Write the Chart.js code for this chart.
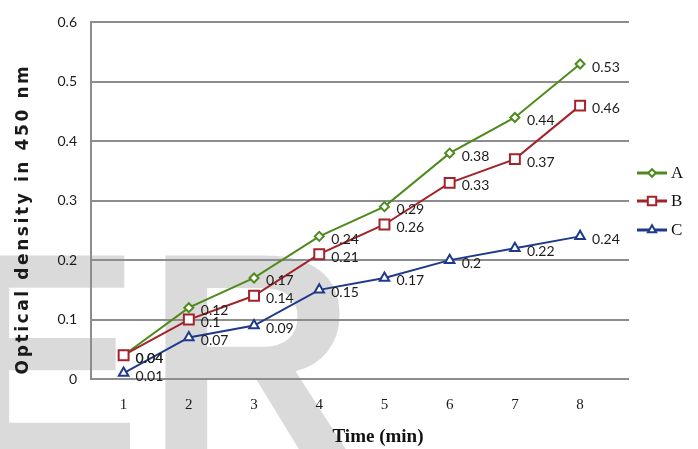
<!DOCTYPE html>
<html>
<head>
<meta charset="utf-8">
<script src="https://cdn.jsdelivr.net/npm/chart.js@4/dist/chart.umd.min.js"></script>
<style>
  html, body { margin: 0; padding: 0; background: #ffffff; }
  canvas { display: block; }
</style>
</head>
<body>
<canvas id="chart" width="698" height="449"></canvas>
<script>
// Time points (min) and optical density readings for the three samples
const timeMin = [1, 2, 3, 4, 5, 6, 7, 8];
const xTickLabels = ['1', '2', '3', '4', '5', '6', '7', '8'];
const yTickLabels = ['0', '0.1', '0.2', '0.3', '0.4', '0.5', '0.6'];
const seriesNames = ['A', 'B', 'C'];
const seriesA = [0.04, 0.12, 0.17, 0.24, 0.29, 0.38, 0.44, 0.53];
const seriesB = [0.04, 0.10, 0.14, 0.21, 0.26, 0.33, 0.37, 0.46];
const seriesC = [0.01, 0.07, 0.09, 0.15, 0.17, 0.20, 0.22, 0.24];

const colors = ['#4f8a1c', '#a3232b', '#1f3a8c'];
const styles = [
  { pointStyle: 'rectRot', radius: 4.5 },
  { pointStyle: 'rect', radius: 7 },
  { pointStyle: 'triangle', radius: 5.5 }
];
const seriesValues = [seriesA, seriesB, seriesC];

const GRID = '#8d8d8d';

function toPoints(values) {
  return timeMin.map((t, i) => ({ x: t, y: values[i] }));
}

const datasets = seriesValues.map((vals, i) => ({
  label: seriesNames[i],
  data: toPoints(vals),
  borderColor: colors[i],
  backgroundColor: '#ffffff',
  borderWidth: 2,
  pointStyle: styles[i].pointStyle,
  pointRadius: styles[i].radius,
  pointHoverRadius: styles[i].radius,
  pointBorderWidth: 2,
  pointBackgroundColor: '#ffffff',
  pointBorderColor: colors[i],
  tension: 0,
  order: 3 - i
}));

// Faint lettering behind the plot
const backdrop = {
  id: 'backdrop',
  beforeDraw(chart) {
    const ctx = chart.ctx;
    ctx.save();
    ctx.fillStyle = '#ffffff';
    ctx.fillRect(0, 0, chart.width, chart.height);
    ctx.fillStyle = '#dadada';
    ctx.font = 'bold 290px "Liberation Sans", Arial, sans-serif';
    ctx.textBaseline = 'alphabetic';
    ctx.textAlign = 'left';
    ctx.fillText('E', -52, 455);
    ctx.fillText('R', 146, 455);
    ctx.restore();
  }
};

// Value labels to the right of each marker
const valueLabels = {
  id: 'valueLabels',
  afterDatasetsDraw(chart) {
    const ctx = chart.ctx;
    ctx.save();
    ctx.font = '14px Lato, "Open Sans", sans-serif';
    ctx.fillStyle = '#1c1c1c';
    ctx.textAlign = 'left';
    ctx.textBaseline = 'middle';
    chart.data.datasets.forEach((ds, di) => {
      const meta = chart.getDatasetMeta(di);
      meta.data.forEach((pt, i) => {
        ctx.fillText(String(seriesValues[di][i]), pt.x + 12, pt.y + 3);
      });
    });
    ctx.restore();
  }
};

// Axis titles and the legend with line-through markers
const annotations = {
  id: 'annotations',
  afterDraw(chart) {
    const ctx = chart.ctx;
    ctx.save();
    // x title
    ctx.fillStyle = '#111111';
    ctx.font = 'bold 19px "Liberation Serif", "Times New Roman", serif';
    ctx.textAlign = 'center';
    ctx.textBaseline = 'middle';
    ctx.fillText('Time (min)', 378, 437);
    // y title
    ctx.save();
    ctx.translate(24, 219);
    ctx.rotate(-Math.PI / 2);
    ctx.font = 'bold 17px "DejaVu Sans", sans-serif';
    if ('letterSpacing' in ctx) ctx.letterSpacing = '2.6px';
    ctx.fillStyle = '#1a1a1a';
    ctx.fillText('Optical density in 450 nm', 0, 0);
    ctx.restore();
    // legend
    const rows = [173, 201, 230];
    seriesNames.forEach((name, i) => {
      const y = rows[i];
      ctx.strokeStyle = colors[i];
      ctx.lineWidth = 3;
      ctx.beginPath();
      ctx.moveTo(637, y);
      ctx.lineTo(667, y);
      ctx.stroke();
      ctx.fillStyle = '#ffffff';
      ctx.lineWidth = 2;
      Chart.helpers.drawPoint(ctx, {
        pointStyle: styles[i].pointStyle,
        radius: styles[i].radius * 0.85,
        rotation: 0,
        borderWidth: 2
      }, 652, y);
      ctx.fillStyle = '#111111';
      ctx.font = '17px "Liberation Serif", "Times New Roman", serif';
      ctx.textAlign = 'left';
      ctx.textBaseline = 'middle';
      ctx.fillText(name, 671, y + 1);
    });
    ctx.restore();
  }
};

new Chart(document.getElementById('chart'), {
  type: 'line',
  data: { datasets },
  plugins: [backdrop, valueLabels, annotations],
  options: {
    responsive: false,
    animation: false,
    devicePixelRatio: 1,
    layout: { padding: { left: 0, top: 19, right: 69, bottom: 0 } },
    plugins: {
      legend: { display: false },
      tooltip: { enabled: false },
      title: { display: false }
    },
    scales: {
      x: {
        type: 'linear',
        min: 0.5,
        max: 8.75,
        afterBuildTicks(scale) {
          scale.ticks = timeMin.map(v => ({ value: v }));
        },
        afterFit(scale) { scale.height = 70; },
        grid: { display: false, drawTicks: false },
        border: { display: false },
        ticks: {
          padding: 17,
          autoSkip: false,
          maxRotation: 0,
          color: '#1a1a1a',
          font: { family: '"Liberation Serif", "Times New Roman", serif', size: 15 },
          callback: (v) => xTickLabels[timeMin.indexOf(v)]
        }
      },
      y: {
        min: 0,
        max: 0.6,
        afterFit(scale) { scale.width = 91; },
        grid: { color: GRID, lineWidth: 2, drawTicks: false },
        border: { display: true, color: GRID, width: 2 },
        ticks: {
          stepSize: 0.1,
          padding: 14,
          color: '#1a1a1a',
          font: { family: 'Lato, "Open Sans", sans-serif', size: 14 },
          callback: (v, i) => yTickLabels[i]
        }
      }
    }
  }
});
</script>
</body>
</html>
